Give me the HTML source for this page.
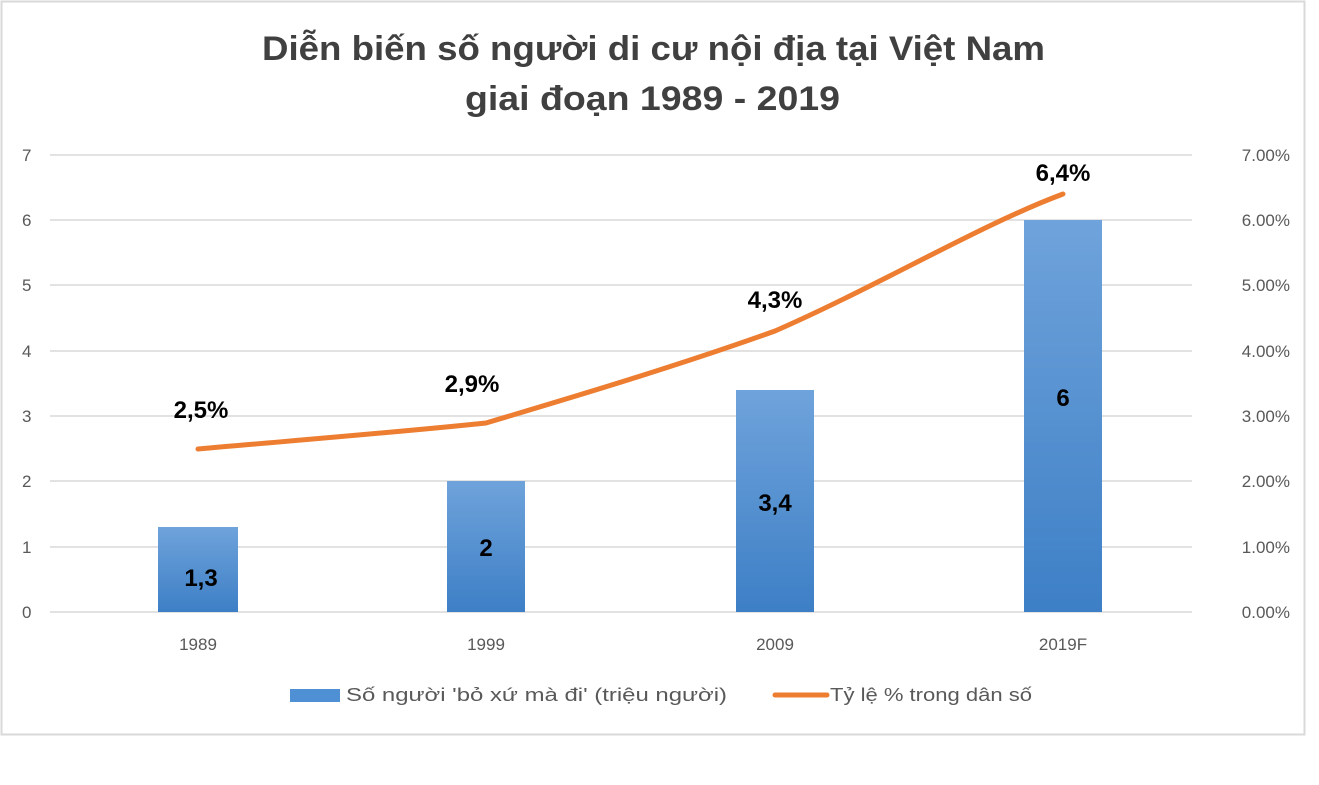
<!DOCTYPE html>
<html><head><meta charset="utf-8"><style>
html,body{margin:0;padding:0;background:#fff;}
svg{display:block;font-family:"Liberation Sans","DejaVu Sans",sans-serif;}
</style></head><body>
<svg width="1319" height="785" viewBox="0 0 1319 785" xmlns="http://www.w3.org/2000/svg">
<defs>
<linearGradient id="bg" x1="0" y1="0" x2="0" y2="1">
<stop offset="0" stop-color="#6fa3db"/><stop offset="1" stop-color="#3d7fc6"/>
</linearGradient>
</defs>
<rect x="1.5" y="1.5" width="1303" height="733" fill="#fff" stroke="#d9d9d9" stroke-width="2"/>
<text x="262" y="60" font-size="34" font-weight="bold" fill="#404040" textLength="783" lengthAdjust="spacingAndGlyphs">Diễn biến số người di cư nội địa tại Việt Nam</text>
<text x="465" y="110" font-size="34" font-weight="bold" fill="#404040" textLength="375" lengthAdjust="spacingAndGlyphs">giai đoạn 1989 - 2019</text>
<g stroke="#d9d9d9" stroke-width="1.5">
<line x1="50" y1="155" x2="1192" y2="155"/><line x1="50" y1="220" x2="1192" y2="220"/>
<line x1="50" y1="285" x2="1192" y2="285"/><line x1="50" y1="351" x2="1192" y2="351"/>
<line x1="50" y1="416" x2="1192" y2="416"/><line x1="50" y1="481" x2="1192" y2="481"/>
<line x1="50" y1="547" x2="1192" y2="547"/><line x1="50" y1="612" x2="1192" y2="612"/>
</g>
<g font-size="17" fill="#595959">
<text x="22" y="161">7</text><text x="22" y="226">6</text><text x="22" y="291">5</text><text x="22" y="357">4</text>
<text x="22" y="422">3</text><text x="22" y="487">2</text><text x="22" y="553">1</text><text x="22" y="618">0</text>
</g>
<g font-size="17" fill="#595959" text-anchor="end">
<text x="1290" y="161">7.00%</text><text x="1290" y="226">6.00%</text><text x="1290" y="291">5.00%</text><text x="1290" y="357">4.00%</text>
<text x="1290" y="422">3.00%</text><text x="1290" y="487">2.00%</text><text x="1290" y="553">1.00%</text><text x="1290" y="618">0.00%</text>
</g>
<g fill="url(#bg)">
<rect x="158" y="527" width="80" height="85"/>
<rect x="447" y="481" width="78" height="131"/>
<rect x="736" y="390" width="78" height="222"/>
<rect x="1024" y="220" width="78" height="392"/>
</g>
<g font-size="24" font-weight="bold" fill="#000" text-anchor="middle">
<text x="201" y="586">1,3</text><text x="486" y="556">2</text><text x="775" y="511">3,4</text><text x="1063" y="406">6</text>
</g>
<path d="M198,449 C300,440 400,432 486,423 C580,395 680,365 775,331 C880,285 980,225 1063,194" fill="none" stroke="#ed7d31" stroke-width="5" stroke-linecap="round"/>
<g font-size="24" font-weight="bold" fill="#000" text-anchor="middle">
<text x="201" y="418">2,5%</text><text x="472" y="392">2,9%</text><text x="775" y="308">4,3%</text><text x="1063" y="181">6,4%</text>
</g>
<g font-size="17" fill="#595959" text-anchor="middle">
<text x="198" y="650">1989</text><text x="486" y="650">1999</text><text x="775" y="650">2009</text><text x="1063" y="650">2019F</text>
</g>
<rect x="290" y="689" width="50" height="13" fill="#4f8fd3"/>
<text x="346" y="701" font-size="18" fill="#595959" textLength="381" lengthAdjust="spacingAndGlyphs">Số người 'bỏ xứ  mà đi' (triệu người)</text>
<line x1="775" y1="695" x2="827" y2="695" stroke="#ed7d31" stroke-width="5" stroke-linecap="round"/>
<text x="830" y="701" font-size="18" fill="#595959" textLength="202" lengthAdjust="spacingAndGlyphs">Tỷ lệ % trong dân số</text>
</svg>
</body></html>
